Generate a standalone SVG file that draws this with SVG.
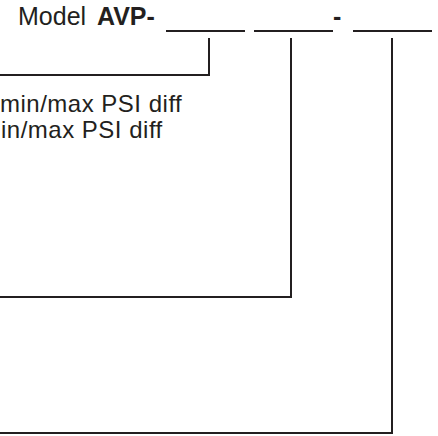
<svg xmlns="http://www.w3.org/2000/svg" width="438" height="436" viewBox="0 0 438 436">
  <style>
    .t { font-family: "Liberation Sans", Arial, sans-serif; font-size: 25px; fill: #231f20; }
    .s { font-size: 24px; letter-spacing: 0.5px; }
    .b { font-weight: bold; }
    .ln { stroke: #231f20; stroke-width: 2; fill: none; }
  </style>
  <rect width="438" height="436" fill="#ffffff"/>
  <g id="title">
    <text class="t" x="18" y="25">Model</text>
    <text class="t b" x="97" y="25">AVP-</text>
    <text class="t b" x="333" y="25">-</text>
  </g>
  <g id="blanks">
    <line class="ln" x1="166" y1="31" x2="245" y2="31"/>
    <line class="ln" x1="254" y1="31" x2="333" y2="31"/>
    <line class="ln" x1="353" y1="31" x2="432" y2="31"/>
  </g>
  <g id="labels">
    <text class="t s" x="0" y="112">min/max PSI diff</text>
    <text class="t s" x="1" y="138">in/max PSI diff</text>
  </g>
  <g id="connectors">
    <polyline class="ln" points="209,38 209,75 0,75"/>
    <polyline class="ln" points="291,38 291,297 0,297"/>
    <polyline class="ln" points="392,38 392,433 0,433"/>
  </g>
</svg>
